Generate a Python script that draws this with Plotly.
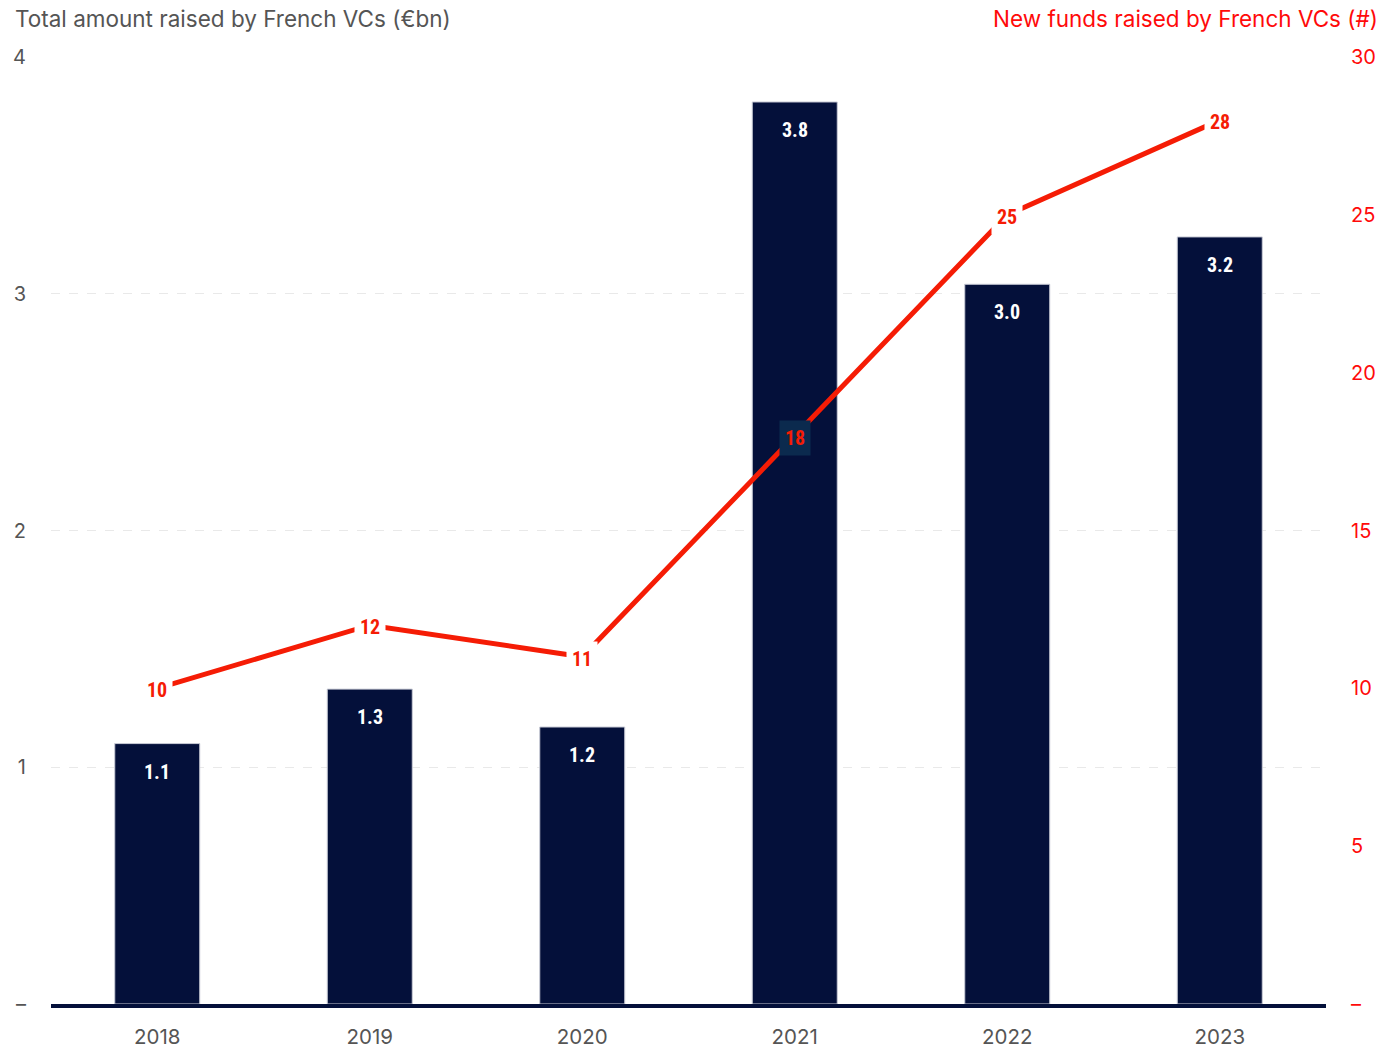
import plotly.graph_objects as go

# French VC fundraising, 2018-2023
years = ["2018", "2019", "2020", "2021", "2022", "2023"]
amount_bn = [1.10, 1.33, 1.17, 3.81, 3.04, 3.24]   # total raised (€bn)
new_funds = [10, 12, 11, 18, 25, 28]               # number of new funds

left_ticks = [0, 1, 2, 3, 4]
left_ticktext = ["–", "1", "2", "3", "4"]
right_ticks = [0, 5, 10, 15, 20, 25, 30]
right_ticktext = ["–", "5", "10", "15", "20", "25", "30"]

NAVY = "#04103a"
RED = "#f51c05"
GREY = "#555555"
FONT = "Inter, Roboto, sans-serif"
LABEL_FONT = "Liberation Sans Narrow, Roboto Condensed, Roboto, sans-serif"

idx = list(range(len(years)))

fig = go.Figure()

fig.add_trace(go.Bar(
    x=idx, y=amount_bn, width=0.4,
    marker=dict(color=NAVY, line=dict(color="#c9cbd6", width=1)),
    hoverinfo="skip", yaxis="y",
))

fig.add_trace(go.Scatter(
    x=idx, y=new_funds, mode="lines",
    line=dict(color=RED, width=5),
    hoverinfo="skip", yaxis="y2",
))

# value labels inside the top of each bar
for i, v in zip(idx, amount_bn):
    fig.add_annotation(
        x=i, y=v, xref="x", yref="y", text=f"<b>{v:.1f}</b>",
        showarrow=False, yshift=-28,
        font=dict(family=LABEL_FONT, size=20, color="white"),
    )

# point labels on the line, boxed so they cut through it
scale = 4 / 30
for i, n, v in zip(idx, new_funds, amount_bn):
    inside_bar = n * scale < v
    fig.add_annotation(
        x=i, y=n, xref="x", yref="y2", text=f"<b>{n}</b>",
        showarrow=False, yshift=-2,
        bgcolor="#0b2a4e" if inside_bar else "white",
        borderpad=5,
        font=dict(family=LABEL_FONT, size=20, color=RED),
    )

# axis titles above the plot
fig.add_annotation(
    x=0, y=1, xref="paper", yref="paper", xanchor="left", yanchor="middle",
    xshift=-38, yshift=39,
    text="Total amount raised by French VCs (€bn)", showarrow=False,
    font=dict(family=FONT, size=22.5, color=GREY),
)
fig.add_annotation(
    x=1, y=1, xref="paper", yref="paper", xanchor="right", yanchor="middle",
    xshift=54, yshift=39,
    text="New funds raised by French VCs (#)", showarrow=False,
    font=dict(family=FONT, size=22.5, color="#ff0a0a"),
)

fig.update_layout(
    width=1380, height=1048,
    margin=dict(l=51, r=54, t=57, b=44),
    paper_bgcolor="white", plot_bgcolor="white",
    showlegend=False,
    xaxis=dict(
        range=[-0.5, len(years) - 0.5], tickvals=idx, ticktext=years,
        showgrid=False, showline=True, zeroline=False,
        linecolor=NAVY, linewidth=4, ticks="", automargin=False,
        tickfont=dict(family=FONT, size=20.5, color=GREY),
        ticklabelstandoff=11,
    ),
    yaxis=dict(
        range=[0, 4], tickvals=left_ticks, ticktext=left_ticktext,
        showgrid=True, gridcolor="#e9e9e9", griddash="dash", gridwidth=1,
        zeroline=False, showline=False, ticks="", automargin=False,
        tickfont=dict(family=FONT, size=20, color=GREY),
        ticklabelstandoff=24,
    ),
    yaxis2=dict(
        range=[0, 30], tickvals=right_ticks, ticktext=right_ticktext,
        overlaying="y", side="right", showgrid=False, zeroline=False,
        showline=False, ticks="", automargin=False,
        tickfont=dict(family=FONT, size=20, color="#ff0a0a"),
        ticklabelstandoff=24,
    ),
)

fig.write_html("out.html")
